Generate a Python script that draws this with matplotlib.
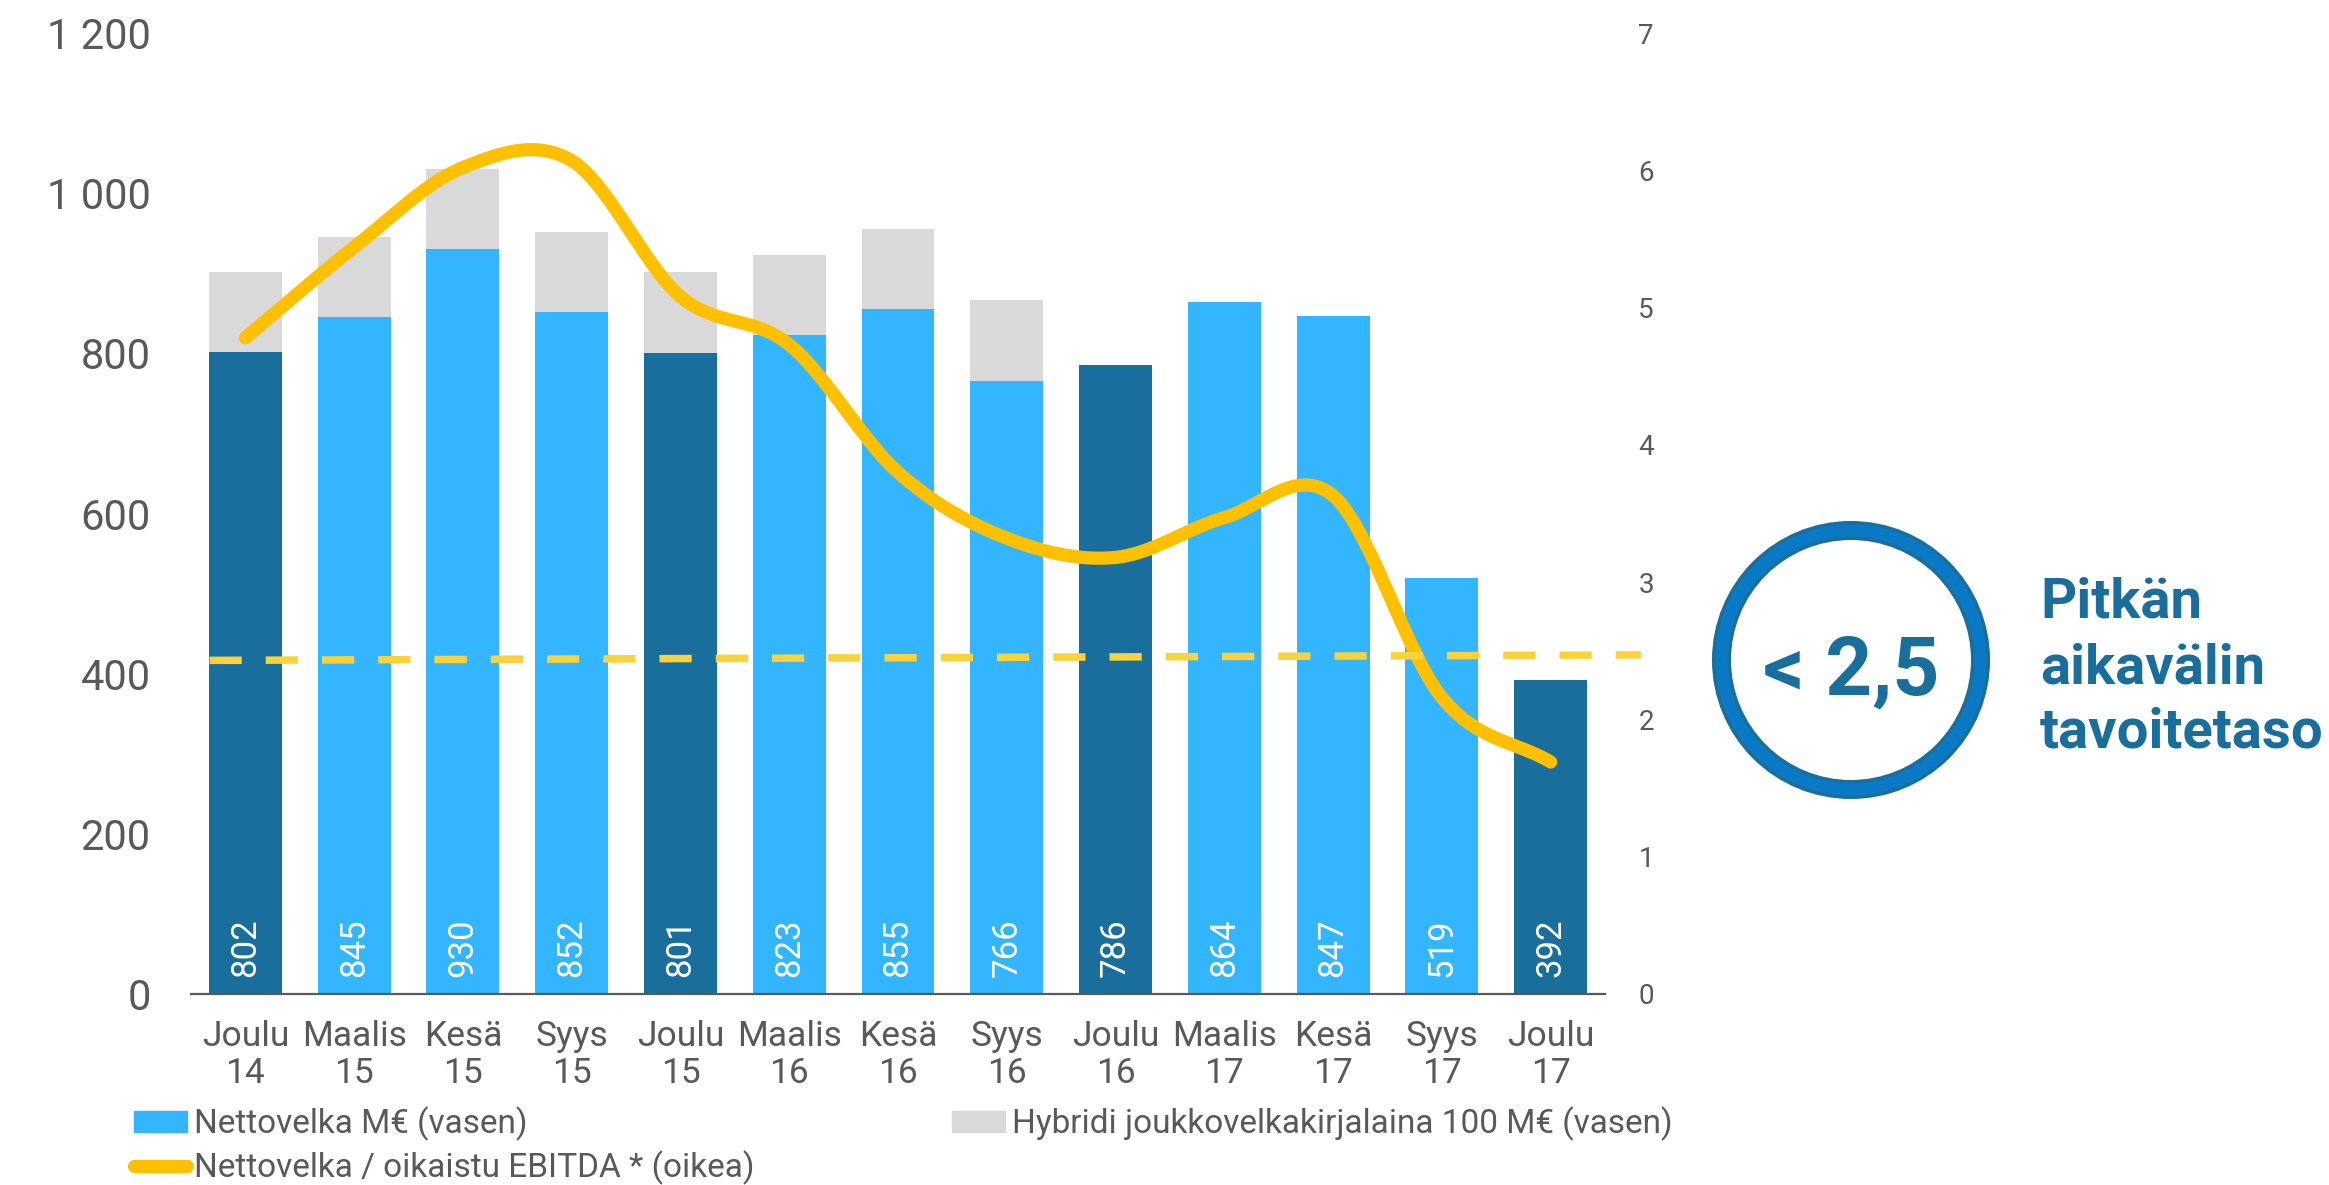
import matplotlib
matplotlib.use("Agg")

import matplotlib.pyplot as plt
import numpy as np
from matplotlib.lines import Line2D
from matplotlib.patches import Circle, Patch

plt.rcParams["font.family"] = ["Roboto", "DejaVu Sans"]

# --- Data -------------------------------------------------------------------
periods = ["Joulu\n14", "Maalis\n15", "Kesä\n15", "Syys\n15", "Joulu\n15", "Maalis\n16",
           "Kesä\n16", "Syys\n16", "Joulu\n16", "Maalis\n17", "Kesä\n17", "Syys\n17",
           "Joulu\n17"]
net_debt = [802, 845, 930, 852, 801, 823, 855, 766, 786, 864, 847, 519, 392]
hybrid = [100, 100, 100, 100, 100, 100, 100, 100, 0, 0, 0, 0, 0]
year_end = [True, False, False, False, True, False, False, False, True, False, False, False, True]
leverage = [4.78, 5.44, 6.02, 6.07, 5.08, 4.73, 3.80, 3.32, 3.18, 3.47, 3.63, 2.16, 1.69]
target_start, target_end = 2.43, 2.47
left_ticks = [0, 200, 400, 600, 800, 1000, 1200]
right_ticks = [0, 1, 2, 3, 4, 5, 6, 7]

# --- Styles -----------------------------------------------------------------
DARK_BLUE = "#1a6e9c"
LIGHT_BLUE = "#33b5ff"
GREY = "#d9d9d9"
YELLOW = "#ffc000"
TARGET_YELLOW = "#f9d23c"
RING_BLUE = "#0a7ac6"
TEXT = "#595959"
W, H = 2329, 1185


def smooth(ys, n=40):
    """Catmull-Rom style smoothing, like a spreadsheet 'smoothed line'."""
    ys = np.asarray(ys, dtype=float)
    m = np.empty_like(ys)
    m[1:-1] = (ys[2:] - ys[:-2]) / 2
    m[0] = ys[1] - ys[0]
    m[-1] = ys[-1] - ys[-2]
    xs_out, ys_out = [], []
    t = np.linspace(0, 1, n)
    h00 = 2 * t**3 - 3 * t**2 + 1
    h10 = t**3 - 2 * t**2 + t
    h01 = -2 * t**3 + 3 * t**2
    h11 = t**3 - t**2
    for i in range(len(ys) - 1):
        xs_out.append(i + t)
        ys_out.append(h00 * ys[i] + h10 * m[i] + h01 * ys[i + 1] + h11 * m[i + 1])
    return np.concatenate(xs_out), np.concatenate(ys_out)


fig = plt.figure(figsize=(W / 100, H / 100), dpi=100)
ax = fig.add_axes([191 / W, 1 - 994 / H, (1605 - 191) / W, (994 - 33) / H])
x = np.arange(len(periods))

colors = [DARK_BLUE if y else LIGHT_BLUE for y in year_end]
ax.bar(x, net_debt, width=0.67, color=colors, zorder=2)
ax.bar(x, hybrid, width=0.67, bottom=net_debt, color=GREY, zorder=2)

for i, v in enumerate(net_debt):
    ax.annotate(str(v), (i, 0), xytext=(0, 12), textcoords="offset points",
                rotation=90, ha="center", va="bottom", color="white", fontsize=25)

ax.set_xlim(-0.5, len(periods) - 0.5)
ax.set_ylim(0, 1200)
ax.set_yticks(left_ticks)
ax.set_yticklabels([f"{v:,}".replace(",", " ") for v in left_ticks])
ax.set_xticks(x)
ax.set_xticklabels(periods, linespacing=1.12)
ax.tick_params(axis="y", length=0, pad=29, labelsize=30, labelcolor=TEXT)
ax.tick_params(axis="x", length=0, pad=19, labelsize=25.5, labelcolor=TEXT)
for side in ["top", "left", "right"]:
    ax.spines[side].set_visible(False)
ax.spines["bottom"].set_color(TEXT)
ax.spines["bottom"].set_linewidth(1.6)

# Leverage ratio on the right axis
ax2 = ax.twinx()
sx, sy = smooth(leverage)
ax2.plot(sx, sy, color=YELLOW, lw=9.5, solid_capstyle="round", zorder=3)
ax2.plot([-0.33, 12.83], [target_start, target_end], color=TARGET_YELLOW, lw=5.4,
         dashes=(4.3, 3.2), dash_capstyle="butt", clip_on=False, zorder=4)
ax2.set_ylim(0, 7)
ax2.set_yticks(right_ticks)
ax2.tick_params(axis="y", length=0, pad=24, labelsize=20, labelcolor=TEXT)
for side in ["top", "left", "right", "bottom"]:
    ax2.spines[side].set_visible(False)

# Legend
h_net = Patch(color=LIGHT_BLUE, label="Nettovelka M€ (vasen)")
h_lev = Line2D([], [], color=YELLOW, lw=9.5, solid_capstyle="round",
               label="Nettovelka / oikaistu EBITDA * (oikea)")
h_hyb = Patch(color=GREY, label="Hybridi joukkovelkakirjalaina 100 M€ (vasen)")
leg_kw = dict(frameon=False, fontsize=24, labelcolor=TEXT, handlelength=1.6,
              handleheight=0.6, handletextpad=0.2, borderpad=0, borderaxespad=0,
              labelspacing=0.3, loc="upper left", bbox_transform=fig.transFigure)
fig.legend(handles=[h_net, h_lev], bbox_to_anchor=(134 / W, 1 - 1106 / H), **leg_kw)
fig.legend(handles=[h_hyb], bbox_to_anchor=(952 / W, 1 - 1106 / H), **leg_kw)

# Target badge
over = fig.add_axes([0, 0, 1, 1], zorder=5)
over.set_xlim(0, W)
over.set_ylim(H, 0)
over.axis("off")
over.add_patch(Circle((1851, 660), 129.5, fill=False, ec=DARK_BLUE, lw=13.7))
over.add_patch(Circle((1851, 660), 129.5, fill=False, ec=RING_BLUE, lw=8.6))
over.text(1851, 695, "< 2,5", ha="center", va="baseline", fontsize=59,
          fontweight="bold", color=DARK_BLUE)
for txt, yb in [("Pitkän", 618), ("aikavälin", 683), ("tavoitetaso", 747)]:
    over.text(2040, yb, txt, ha="left", va="baseline", fontsize=40.5,
              fontweight="bold", color=DARK_BLUE)

fig.savefig("out.png", dpi=100)
